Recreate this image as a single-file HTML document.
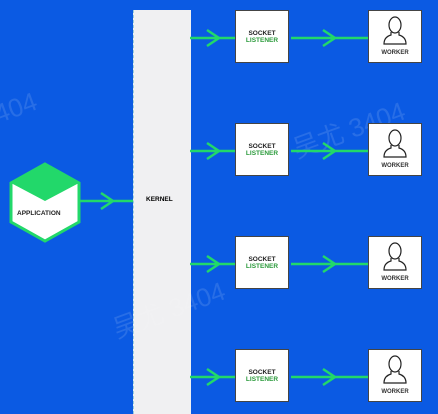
<!DOCTYPE html>
<html><head><style>
html,body{margin:0;padding:0;}
body{width:438px;height:414px;background:#0b5ae3;position:relative;overflow:hidden;font-family:"Liberation Sans",Arial,sans-serif;}
.k{position:absolute;left:133px;top:10px;width:57px;height:404px;background:#f0f0f2;border-left:1px dashed #9cd;}
.box{position:absolute;width:54px;height:53px;background:#fff;border:1.5px solid #444;box-sizing:border-box;font-weight:bold;font-size:6.5px;text-align:center;}
.s{left:235px;}
.w{left:368px;}
.t{font-size:7px;font-weight:bold;position:absolute;}
.wm{position:absolute;color:rgba(255,255,255,0.12);font-size:26px;transform:rotate(-20deg);font-family:"Liberation Sans","Noto Sans CJK SC",sans-serif;}
</style></head><body>
<div class="k"></div>
<div class="t" style="left:146px;top:196px;font-size:6.5px;">KERNEL</div>
<div class="wm" style="left:-20px;top:95px">3404</div>
<div class="wm" style="left:290px;top:110px">吴尤 3404</div>
<div class="wm" style="left:110px;top:290px">吴尤 3404</div>

<div class="box s" style="top:10px"><div style="margin-top:19px;color:#222">SOCKET</div><div style="color:#2a9a3a">LISTENER</div></div>
<div class="box s" style="top:123px"><div style="margin-top:19px;color:#222">SOCKET</div><div style="color:#2a9a3a">LISTENER</div></div>
<div class="box s" style="top:236px"><div style="margin-top:19px;color:#222">SOCKET</div><div style="color:#2a9a3a">LISTENER</div></div>
<div class="box s" style="top:349px"><div style="margin-top:19px;color:#222">SOCKET</div><div style="color:#2a9a3a">LISTENER</div></div>

<svg width="438" height="414" style="position:absolute;left:0;top:0">
<g stroke="#22d86a" stroke-width="2.5" fill="none">
<path d="M190 38H235M207 30L219 38L207 46"/>
<path d="M190 151H235M207 143L219 151L207 159"/>
<path d="M190 264H235M207 256L219 264L207 272"/>
<path d="M190 377H235M207 369L219 377L207 385"/>
<path d="M291 38H368M323 30L335 38L323 46"/>
<path d="M291 151H368M323 143L335 151L323 159"/>
<path d="M291 264H368M323 256L335 264L323 272"/>
<path d="M291 377H368M323 369L335 377L323 385"/>
<path d="M79 201H133M101 193L113 201L101 209"/>
</g>
<polygon points="45,164 79,183 79,222 45,241 11,222 11,183" fill="#fff" stroke="#22d86a" stroke-width="3"/>
<polygon points="45,164 79,183 45,201 11,183" fill="#22d86a"/>
</svg>
<div class="t" style="left:17px;top:210px;font-size:6.5px;color:#222">APPLICATION</div>

<svg width="0" height="0" style="position:absolute"><defs><g id="p" fill="none" stroke="#222" stroke-width="1.2"><ellipse cx="27" cy="12" rx="6" ry="8"/><path d="M23 19 L23 22 Q16 24 16 31 L38 31 Q38 24 31 22 L31 19"/></g></defs></svg>
<div class="box w" style="top:10px"><svg width="54" height="36" style="position:absolute;left:-1px;top:2px"><use href="#p"/></svg><div style="position:absolute;bottom:6px;width:100%;color:#333;font-size:6px">WORKER</div></div>
<div class="box w" style="top:123px"><svg width="54" height="36" style="position:absolute;left:-1px;top:2px"><use href="#p"/></svg><div style="position:absolute;bottom:6px;width:100%;color:#333;font-size:6px">WORKER</div></div>
<div class="box w" style="top:236px"><svg width="54" height="36" style="position:absolute;left:-1px;top:2px"><use href="#p"/></svg><div style="position:absolute;bottom:6px;width:100%;color:#333;font-size:6px">WORKER</div></div>
<div class="box w" style="top:349px"><svg width="54" height="36" style="position:absolute;left:-1px;top:2px"><use href="#p"/></svg><div style="position:absolute;bottom:6px;width:100%;color:#333;font-size:6px">WORKER</div></div>
</body></html>
